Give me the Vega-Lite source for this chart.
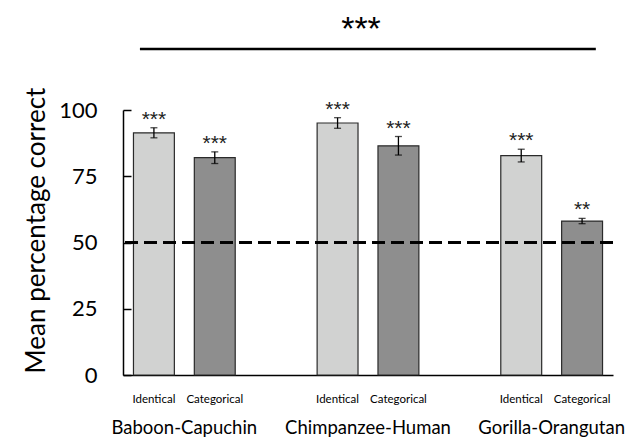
{
  "$schema": "https://vega.github.io/schema/vega-lite/v6.json",
  "autosize": "none",
  "width": 490,
  "height": 265,
  "padding": {"left": 123, "top": 110, "right": 14, "bottom": 69},
  "background": "white",
  "config": {"view": {"stroke": null}, "font": "Lato"},
  "datasets": {
    "bars": [
      {"group": "Baboon-Capuchin", "condition": "Identical", "mean": 91.4, "lo": 89.5, "hi": 93.3, "sig": "***"},
      {"group": "Baboon-Capuchin", "condition": "Categorical", "mean": 82.0, "lo": 79.8, "hi": 84.2, "sig": "***"},
      {"group": "Chimpanzee-Human", "condition": "Identical", "mean": 95.1, "lo": 93.1, "hi": 97.1, "sig": "***"},
      {"group": "Chimpanzee-Human", "condition": "Categorical", "mean": 86.5, "lo": 83.0, "hi": 90.0, "sig": "***"},
      {"group": "Gorilla-Orangutan", "condition": "Identical", "mean": 82.8, "lo": 80.4, "hi": 85.2, "sig": "***"},
      {"group": "Gorilla-Orangutan", "condition": "Categorical", "mean": 58.1, "lo": 57.1, "hi": 59.1, "sig": "**"}
    ],
    "overall": [
      {"g1": "Baboon-Capuchin", "g2": "Gorilla-Orangutan", "gmid": "Chimpanzee-Human", "y": 123, "ys": 126.4, "sig": "***"}
    ]
  },
  "data": {"name": "bars"},
  "layer": [
    {
      "mark": {"type": "bar", "stroke": "#2a2a2a", "strokeWidth": 1.2},
      "encoding": {
        "x": {
          "field": "group", "type": "nominal", "sort": null,
          "scale": {"paddingInner": 0.332, "paddingOuter": 0},
          "axis": {"title": null, "labelAngle": 0, "ticks": false, "labelPadding": 43, "labelFontSize": 18.5, "labelColor": "black", "domainColor": "black", "domainWidth": 1.5, "labelFont": "Lato"}
        },
        "xOffset": {"field": "condition", "type": "nominal", "sort": ["Identical", "Categorical"], "scale": {"paddingInner": 0.328, "paddingOuter": 0.172}},
        "y": {
          "field": "mean", "type": "quantitative",
          "scale": {"domain": [0, 100], "nice": false},
          "axis": {"title": "Mean percentage correct", "values": [0, 25, 50, 75, 100], "grid": false, "tickSize": -8, "tickColor": "black", "tickWidth": 1.5, "domainColor": "black", "domainWidth": 1.5, "labelFontSize": 22, "labelColor": "black", "labelPadding": 34, "titleFontSize": 26, "titleFontWeight": "normal", "titleColor": "black", "titlePadding": 9, "titleY": 120, "labelFont": "Lato", "titleFont": "Lato"}
        },
        "color": {"field": "condition", "type": "nominal", "scale": {"domain": ["Identical", "Categorical"], "range": ["#d1d2d1", "#8e8e8e"]}, "legend": null}
      }
    },
    {
      "mark": {"type": "rule", "color": "black", "strokeWidth": 1.3},
      "encoding": {
        "x": {"field": "group", "type": "nominal", "sort": null},
        "xOffset": {"field": "condition", "type": "nominal", "sort": ["Identical", "Categorical"]},
        "y": {"field": "lo", "type": "quantitative"},
        "y2": {"field": "hi"}
      }
    },
    {
      "mark": {"type": "tick", "color": "black", "size": 7, "thickness": 1.3, "orient": "horizontal"},
      "encoding": {
        "x": {"field": "group", "type": "nominal", "sort": null},
        "xOffset": {"field": "condition", "type": "nominal", "sort": ["Identical", "Categorical"]},
        "y": {"field": "lo", "type": "quantitative"}
      }
    },
    {
      "mark": {"type": "tick", "color": "black", "size": 7, "thickness": 1.3, "orient": "horizontal"},
      "encoding": {
        "x": {"field": "group", "type": "nominal", "sort": null},
        "xOffset": {"field": "condition", "type": "nominal", "sort": ["Identical", "Categorical"]},
        "y": {"field": "hi", "type": "quantitative"}
      }
    },
    {
      "mark": {"type": "text", "font": "Liberation Sans", "fontSize": 21, "color": "#222", "baseline": "alphabetic", "dy": -2},
      "encoding": {
        "x": {"field": "group", "type": "nominal", "sort": null},
        "xOffset": {"field": "condition", "type": "nominal", "sort": ["Identical", "Categorical"]},
        "y": {"field": "hi", "type": "quantitative"},
        "text": {"field": "sig"}
      }
    },
    {
      "mark": {"type": "text", "font": "Lato", "fontSize": 11.5, "color": "black", "baseline": "top", "dy": 19},
      "encoding": {
        "x": {"field": "group", "type": "nominal", "sort": null},
        "xOffset": {"field": "condition", "type": "nominal", "sort": ["Identical", "Categorical"]},
        "y": {"datum": 0},
        "text": {"field": "condition"}
      }
    },
    {
      "mark": {"type": "rule", "color": "black", "strokeWidth": 2, "strokeDash": [13, 6]},
      "encoding": {"y": {"datum": 50}}
    },
    {
      "data": {"name": "overall"},
      "mark": {"type": "rule", "color": "black", "strokeWidth": 2.5},
      "encoding": {
        "x": {"field": "g1", "type": "nominal", "bandPosition": 0.138},
        "x2": {"field": "g2", "bandPosition": 0.86},
        "y": {"field": "y", "type": "quantitative"}
      }
    },
    {
      "data": {"name": "overall"},
      "mark": {"type": "text", "font": "Liberation Sans", "fontSize": 34, "color": "black", "baseline": "alphabetic", "dx": -7},
      "encoding": {
        "x": {"field": "gmid", "type": "nominal"},
        "y": {"field": "ys", "type": "quantitative"},
        "text": {"field": "sig"}
      }
    }
  ]
}
